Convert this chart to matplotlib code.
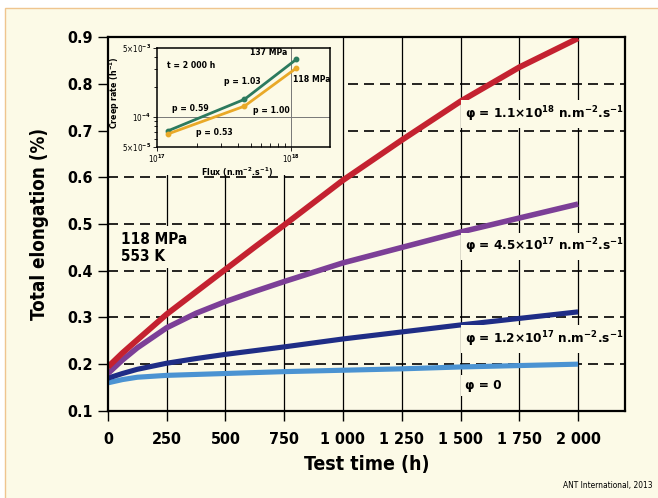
import matplotlib
matplotlib.use("Agg")
import matplotlib.pyplot as plt
import matplotlib.patches as mpatches
import matplotlib.ticker as mticker

# ─── Data ───────────────────────────────────────────────────────────────────
time_h = [0, 62, 125, 250, 375, 500, 625, 750, 1000, 1250, 1500, 1750, 2000]
elong_phi_11e18 = [0.194, 0.224, 0.252, 0.307, 0.355, 0.403, 0.451, 0.498, 0.594, 0.680, 0.763, 0.836, 0.898]
elong_phi_45e17 = [0.180, 0.209, 0.235, 0.278, 0.309, 0.334, 0.356, 0.377, 0.417, 0.450, 0.483, 0.513, 0.543]
elong_phi_12e17 = [0.170, 0.180, 0.189, 0.202, 0.212, 0.221, 0.229, 0.237, 0.254, 0.269, 0.284, 0.298, 0.312]
elong_phi_0     = [0.160, 0.167, 0.172, 0.176, 0.178, 0.180, 0.182, 0.184, 0.187, 0.190, 0.194, 0.197, 0.200]

series_labels = [
    r"φ = 1.1×10$^{18}$ n.m$^{-2}$.s$^{-1}$",
    r"φ = 4.5×10$^{17}$ n.m$^{-2}$.s$^{-1}$",
    r"φ = 1.2×10$^{17}$ n.m$^{-2}$.s$^{-1}$",
    "φ = 0",
]
series_label_y = [0.736, 0.452, 0.254, 0.154]

x_ticks = [0, 250, 500, 750, 1000, 1250, 1500, 1750, 2000]
x_ticklabels = ["0", "250", "500", "750", "1 000", "1 250", "1 500", "1 750", "2 000"]
y_ticks = [0.1, 0.2, 0.3, 0.4, 0.5, 0.6, 0.7, 0.8, 0.9]

# inset: creep rate vs flux at t = 2 000 h
flux = [1.2e17, 4.5e17, 1.1e18]
creep_137 = [7.2e-5, 1.5e-4, 3.8e-4]
creep_118 = [6.7e-5, 1.28e-4, 3.1e-4]

BG = "#FCFAE7"
COLORS = ["#C42230", "#7C3F97", "#1F2D86", "#4B93D2"]
WIDTHS = [4.2, 4.0, 3.7, 3.7]

plt.rcParams["font.family"] = ["DejaVu Sans"]
plt.rcParams["font.stretch"] = "condensed"
plt.rcParams["mathtext.fontset"] = "custom"
plt.rcParams["mathtext.rm"] = "DejaVu Sans:bold:stretch=condensed"
plt.rcParams["mathtext.it"] = "DejaVu Sans:bold:stretch=condensed"
plt.rcParams["mathtext.bf"] = "DejaVu Sans:bold:stretch=condensed"

fig = plt.figure(figsize=(6.58, 4.98), dpi=100)
fig.patch.set_facecolor("white")
fig.patches.append(mpatches.Rectangle(
    (5 / 658, -0.05), 1.1, 1 - 8 / 498 + 0.05, transform=fig.transFigure,
    facecolor=BG, edgecolor="#EFC58E", linewidth=1.0, zorder=-10))

ax = fig.add_axes([0.164, 0.175, 0.786, 0.750])
ax.set_facecolor(BG)
ax.set_xlim(0, 2200)
ax.set_ylim(0.1, 0.9)

# grid: solid verticals, dashed horizontals
for xv in x_ticks[1:]:
    ax.axvline(xv, color="black", lw=0.9, zorder=1)
for yv in y_ticks[1:-1]:
    ax.axhline(yv, color="black", lw=1.2, dashes=(6, 3.6), zorder=1)

# masks hiding the grid behind inset and text
ax.add_patch(mpatches.Rectangle((0, 0.605), 995, 0.3, facecolor=BG, edgecolor="none", zorder=2))
ax.add_patch(mpatches.Rectangle((0, 0.405), 290, 0.09, facecolor=BG, edgecolor="none", zorder=2))

series = [elong_phi_11e18, elong_phi_45e17, elong_phi_12e17, elong_phi_0]
for ys, c, w in zip(series[::-1], COLORS[::-1], WIDTHS[::-1]):
    ax.plot(time_h, ys, color=c, lw=w, solid_capstyle="butt",
            solid_joinstyle="round", zorder=3)

for lbl, yl in zip(series_labels, series_label_y):
    ax.text(1518, yl, lbl, fontsize=9.7, fontweight="bold", ha="left", va="center",
            zorder=4, bbox=dict(facecolor=BG, edgecolor="none", pad=3))

ax.text(54, 0.449, "118 MPa\n553 K", fontsize=11, fontweight="bold",
        ha="left", va="center", linespacing=1.2, zorder=4)

ax.set_xticks(x_ticks)
ax.set_xticklabels(x_ticklabels)
ax.set_yticks(y_ticks)
ax.set_yticklabels([f"{v:.1f}" for v in y_ticks])
ax.tick_params(direction="out", length=7, width=1.0, labelsize=11.5, pad=4)
ax.tick_params(axis="x", pad=8)
for lab in ax.get_xticklabels() + ax.get_yticklabels():
    lab.set_fontweight("bold")
for sp in ax.spines.values():
    sp.set_linewidth(1.6)
    sp.set_zorder(5)

ax.set_xlabel("Test time (h)", fontsize=14, fontweight="bold", labelpad=6)
ax.set_ylabel("Total elongation (%)", fontsize=13.5, fontweight="bold", labelpad=13)

# ─── inset ──────────────────────────────────────────────────────────────────
ins = fig.add_axes([157 / 658, 1 - 146.7 / 498, 173 / 658, 98.4 / 498])
ins.set_facecolor(BG)
ins.set_xscale("log")
ins.set_yscale("log")
ins.set_xlim(1e17, 1.96e18)
ins.set_ylim(5e-5, 4.9e-4)
ins.axvline(1e18, color="#777777", lw=0.7, zorder=1)
ins.axhline(1e-4, color="#777777", lw=0.7, zorder=1)
ins.plot(flux, creep_137, color="#2C7A5E", lw=2.0, marker="o", ms=3.2, zorder=3)
ins.plot(flux, creep_118, color="#E9A928", lw=2.0, marker="o", ms=3.2, zorder=3)

ins.set_xticks([1e17, 1e18])
ins.set_xticklabels([r"10$^{17}$", r"10$^{18}$"])
ins.set_yticks([5e-5, 1e-4, 4.9e-4])
ins.set_yticklabels([r"5×10$^{-5}$", r"10$^{-4}$", r"5×10$^{-3}$"])
ins.tick_params(which="major", direction="out", length=3, width=0.6, labelsize=5.8, pad=1.5)
ins.tick_params(which="minor", direction="out", length=2.5, width=0.6)
ins.tick_params(axis="x", which="minor", direction="in", length=3)
ins.yaxis.set_minor_formatter(mticker.NullFormatter())
ins.xaxis.set_minor_formatter(mticker.NullFormatter())
for sp in ins.spines.values():
    sp.set_linewidth(1.1)

ins.set_xlabel(r"Flux (n.m$^{-2}$.s$^{-1}$)", fontsize=6.3, fontweight="bold")
ins.set_ylabel(r"Creep rate (h$^{-1}$)", fontsize=6.3, fontweight="bold")
ins.xaxis.set_label_coords(0.462, -0.196)
ins.yaxis.set_label_coords(-0.205, 0.55)

tk = dict(fontsize=6.2, fontweight="bold")
ins.text(1.19e17, 3.3e-4, "t = 2 000 h", ha="left", va="center", **tk)
ins.text(9.4e17, 4.45e-4, "137 MPa", ha="right", va="center", **tk)
ins.text(1.04e18, 2.37e-4, "118 MPa", ha="left", va="center", **tk)
ins.text(3.18e17, 2.28e-4, "p = 1.03", ha="left", va="center", **tk)
ins.text(1.29e17, 1.2e-4, "p = 0.59", ha="left", va="center", **tk)
ins.text(5.2e17, 1.17e-4, "p = 1.00", ha="left", va="center", **tk)
ins.text(1.96e17, 7.0e-5, "p = 0.53", ha="left", va="center", **tk)

fig.text(653 / 658, 1 - 485 / 498, "ANT International, 2013", fontsize=6,
         ha="right", va="center")

fig.savefig("out.png", dpi=100, facecolor=fig.get_facecolor())
